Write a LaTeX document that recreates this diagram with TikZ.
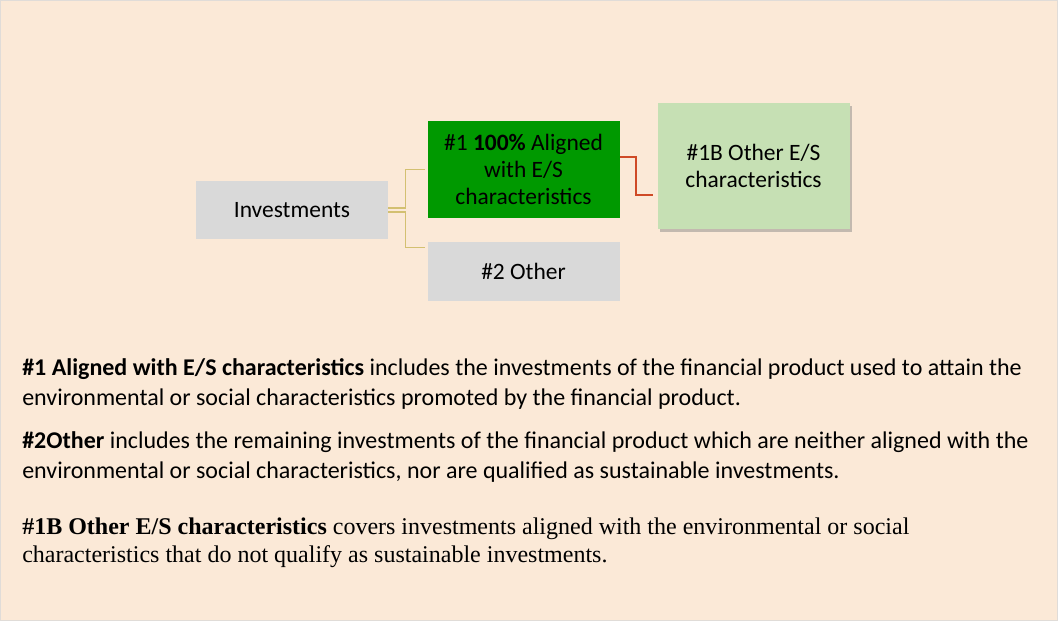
\documentclass[tikz,border=0pt]{standalone}
\usepackage{fontspec}
\setmainfont{Carlito}
\newfontfamily\timesfont{Liberation Serif}
\usetikzlibrary{calc,shadows}

\definecolor{bgpeach}{HTML}{FBE9D7}
\definecolor{boxgray}{HTML}{D9D9D9}
\definecolor{darkgreen}{HTML}{009900}
\definecolor{lightgreen}{HTML}{C6E0B4}
\definecolor{tanline}{HTML}{D3C071}
\definecolor{redline}{HTML}{CF4A26}

\begin{document}
\begin{tikzpicture}[x=0.75pt, y=-0.75pt,
    box/.style={minimum width=144pt, align=center, inner sep=0pt,
        font=\fontsize{17.6}{20.25}\selectfont},
    para/.style={anchor=north west, align=left, inner sep=0pt,
        font=\fontsize{18}{22.5}\selectfont}]
	\useasboundingbox (0,0) rectangle (1058,621);
	\fill[bgpeach] (0,0) rectangle (1058,621);
	\draw[boxgray!80!bgpeach, line width=0.6pt] (0.5,0.5) rectangle (1057.5,620.5);

	\node[box, fill=boxgray, minimum height=43.5pt] (inv) at (292,210) {Investments};
	\node[box, fill=darkgreen, minimum height=72.75pt] (a1) at (523.5,169.5) {\#1 \textbf{100\%} Aligned\\with E/S\\characteristics};
	\node[box, fill=boxgray, minimum height=44.25pt] (oth) at (523.5,271) {\#2 Other};
	\node[box, fill=lightgreen, minimum height=94.5pt,
	      drop shadow={shadow xshift=1.5pt, shadow yshift=-2.5pt, fill=black!50, opacity=0.45}] (b1) at (753.5,166) {\#1B Other E/S\\characteristics};

	\draw[tanline, line width=1pt, shorten >=2pt] ($(inv.east)+(0,-2)$) -- ++(17,0) |- (a1.west);
	\draw[tanline, line width=1pt, shorten >=2pt] ($(inv.east)+(0,2)$) -- ++(17,0) |- ($(oth.north west)+(0,6)$);
	\draw[redline, line width=1.3pt, shorten >=3pt] ($(a1.east)+(0,-12.5)$) -- ++(16,0) |- ($(b1.west)+(0,29)$);

	\node[para] (p1) at (22,358) {\textbf{\#1 Aligned with E/S characteristics} includes the investments of the financial product used to attain the\\environmental or social characteristics promoted by the financial product.};
	\node[para] (p2) at (22,431) {\textbf{\#2Other} includes the remaining investments of the financial product which are neither aligned with the\\environmental or social characteristics, nor are qualified as sustainable investments.};
	\node[para, font=\timesfont\fontsize{18}{21}\selectfont] (p3) at (22,518) {\textbf{\#1B Other E/S characteristics} covers investments aligned with the environmental or social\\characteristics that do not qualify as sustainable investments.};
\end{tikzpicture}
\end{document}
